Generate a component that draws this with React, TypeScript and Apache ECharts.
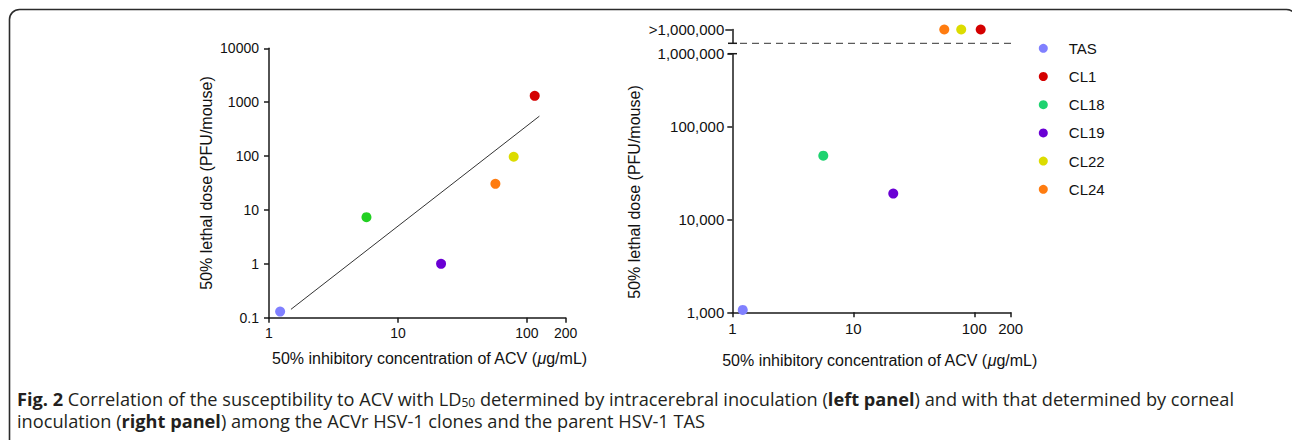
import React, { useEffect, useRef } from "react";
import * as echarts from "echarts";

// ---- data ----
const strainNames = ["TAS", "CL1", "CL18", "CL19", "CL22", "CL24"];
const strainColors = ["#8080ff", "#d40000", "#1ed370", "#6a00d4", "#dcdc00", "#ff7c10"];
const leftStrainColors = ["#8080ff", "#d40000", "#22d022", "#6a00d4", "#dcdc00", "#ff7c10"];

// left panel: IC50 of ACV (µg/mL) vs LD50 intracerebral (PFU/mouse)
const leftIC50 = [1.22, 115, 5.7, 21.6, 79, 57];
const leftLD50 = [0.13, 1310, 7.35, 1.0, 97, 30.5];
// regression line end points
const fitIC50 = [1.48, 125];
const fitLD50 = [0.143, 550];

// right panel: IC50 vs LD50 corneal (PFU/mouse); ">1,000,000" = above range
const aboveLabel = ">1,000,000";
const rightIC50 = [1.22, 113, 5.65, 21.4, 78, 56.5];
const rightLD50: (number | string)[] = [1060, aboveLabel, 48300, 18900, aboveLabel, aboveLabel];

// axis extents
const xMin = 1;
const xMax = 200;
const leftYMin = 0.1;
const leftYMax = 10000;
const rightYMin = 1000;
const rightYTop = 603000; // top of the drawn axis, labelled 1,000,000 in the figure
const rightYTopLabel = "1,000,000";
const topCategories = ["", aboveLabel];

const FONT = "Liberation Sans, Arial, Helvetica, sans-serif";
const CAP_FONT = "Open Sans, sans-serif";
const AXIS_COLOR = "#1a1a1a";
const TEXT_COLOR = "#111";

const caption1 =
  "{b|Fig. 2} Correlation of the susceptibility to ACV with LD{sub|50} determined by intracerebral inoculation ({b|left panel}) and with that determined by corneal";
const caption2 =
  "inoculation ({b|right panel}) among the ACVr HSV-1 clones and the parent HSV-1 TAS";

function fmtNum(v: number) {
  return String(+v.toPrecision(6));
}

export default function App() {
  const ref = useRef<HTMLDivElement>(null);
  useEffect(() => {
    if (!ref.current) return;
    const chart = echarts.init(ref.current, null, { renderer: "svg" });

    const axisLine = { show: true, onZero: false, lineStyle: { color: AXIS_COLOR, width: 1.5 } };
    const axisTick = { show: true, length: 5, lineStyle: { color: AXIS_COLOR, width: 1.5 } };
    const xName = "50% inhibitory concentration of ACV ({i|\u03bc}g/mL)";
    const nameRich = { i: { fontStyle: "italic", fontSize: 16, fontFamily: FONT, color: TEXT_COLOR } };

    const series: any[] = [];
    // right panel first (legend colours come from it)
    strainNames.forEach((n, i) => {
      const v = rightLD50[i];
      const inRange = typeof v === "number";
      series.push({
        type: "scatter",
        name: n,
        xAxisIndex: inRange ? 1 : 2,
        yAxisIndex: inRange ? 1 : 2,
        symbolSize: 10,
        itemStyle: { color: strainColors[i], opacity: 1 },
        data: [[rightIC50[i], v]],
      });
    });
    strainNames.forEach((n, i) => {
      series.push({
        type: "scatter",
        name: n,
        xAxisIndex: 0,
        yAxisIndex: 0,
        symbolSize: 10,
        itemStyle: { color: leftStrainColors[i], opacity: 1 },
        data: [[leftIC50[i], leftLD50[i]]],
      });
    });
    series.push({
      type: "line",
      name: "fit",
      xAxisIndex: 0,
      yAxisIndex: 0,
      symbol: "none",
      lineStyle: { color: "#333", width: 1 },
      data: fitIC50.map((x, i) => [x, fitLD50[i]]),
    });

    const capStyle = (text: string, y: number) => ({
      type: "text",
      x: 17,
      y,
      style: {
        text,
        fill: "#231f20",
        fontSize: 18.2,
        fontFamily: CAP_FONT,
        verticalAlign: "middle",
        lineHeight: 19,
        rich: {
          b: { fontWeight: "bold", fontSize: 18.2, fontFamily: CAP_FONT, fill: "#231f20", lineHeight: 19 },
          sub: { fontSize: 12, fontFamily: CAP_FONT, fill: "#231f20", verticalAlign: "bottom", lineHeight: 7 },
        },
      },
    });

    const option: any = {
      animation: false,
      backgroundColor: "#fff",
      textStyle: { fontFamily: FONT },
      grid: [
        { left: 269, top: 48.3, width: 296.7, height: 269.4 },
        { left: 732.3, top: 53.7, width: 278.4, height: 258.6 },
        { left: 732.3, top: 29.5, width: 278.4, height: 13.8 },
      ],
      xAxis: [
        {
          type: "log",
          gridIndex: 0,
          min: xMin,
          max: xMax,
          axisLine,
          axisTick,
          splitLine: { show: false },
          axisLabel: { fontSize: 14, color: TEXT_COLOR, margin: 8, fontFamily: FONT, formatter: fmtNum },
          name: xName,
          nameLocation: "middle",
          nameGap: 33,
          nameTextStyle: { fontSize: 16, color: TEXT_COLOR, fontFamily: FONT, padding: [0, 0, 0, 24], rich: nameRich },
        },
        {
          type: "log",
          gridIndex: 1,
          min: xMin,
          max: xMax,
          axisLine,
          axisTick,
          splitLine: { show: false },
          axisLabel: { fontSize: 15, color: TEXT_COLOR, margin: 9, fontFamily: FONT, formatter: fmtNum },
          name: xName,
          nameLocation: "middle",
          nameGap: 40,
          nameTextStyle: { fontSize: 16, color: TEXT_COLOR, fontFamily: FONT, padding: [0, 0, 0, 16], rich: nameRich },
        },
        {
          type: "log",
          gridIndex: 2,
          min: xMin,
          max: xMax,
          show: false,
        },
      ],
      yAxis: [
        {
          type: "log",
          gridIndex: 0,
          min: leftYMin,
          max: leftYMax,
          axisLine,
          axisTick,
          splitLine: { show: false },
          axisLabel: { fontSize: 14, color: TEXT_COLOR, margin: 10, fontFamily: FONT, formatter: fmtNum },
          name: "50% lethal dose (PFU/mouse)",
          nameLocation: "middle",
          nameGap: 55,
          nameTextStyle: { fontSize: 16, color: TEXT_COLOR, fontFamily: FONT },
        },
        {
          type: "log",
          gridIndex: 1,
          min: rightYMin,
          max: rightYTop,
          axisLine,
          axisTick,
          splitLine: { show: false },
          axisLabel: {
            fontSize: 15,
            color: TEXT_COLOR,
            margin: 8,
            fontFamily: FONT,
            showMaxLabel: true,
            formatter: (v: number) =>
              v >= rightYTop * 0.999 ? rightYTopLabel : Math.round(v).toLocaleString("en-US"),
          },
          name: "50% lethal dose (PFU/mouse)",
          nameLocation: "middle",
          nameGap: 90,
          nameTextStyle: { fontSize: 16, color: TEXT_COLOR, fontFamily: FONT, padding: [0, 18, 0, 0] },
        },
        {
          type: "category",
          gridIndex: 2,
          data: topCategories,
          boundaryGap: false,
          axisLine,
          axisTick: { show: true, length: 7, interval: (i: number) => i === 1, lineStyle: { color: AXIS_COLOR, width: 1.5 } },
          axisLabel: { fontSize: 15, color: TEXT_COLOR, margin: 8, fontFamily: FONT, interval: 0 },
          splitLine: { show: false },
        },
      ],
      legend: {
        orient: "vertical",
        left: 1038.8,
        top: 40.3,
        padding: 0,
        itemWidth: 9,
        itemHeight: 9,
        itemGap: 12.2,
        icon: "circle",
        selectedMode: false,
        textStyle: { fontSize: 15, color: TEXT_COLOR, fontFamily: FONT, lineHeight: 16, padding: [0, 0, 0, 16] },
        data: strainNames.map((n, i) => ({ name: n, itemStyle: { color: strainColors[i] } })),
      },
      graphic: [
        {
          type: "rect",
          shape: { x: 9.5, y: 9.5, width: 1287, height: 480, r: 10 },
          style: { fill: "none", stroke: "#2b2b2b", lineWidth: 1.6 },
          silent: true,
        },
        {
          type: "line",
          shape: { x1: 728, y1: 43.3, x2: 737, y2: 43.3 },
          style: { stroke: AXIS_COLOR, lineWidth: 1.5 },
        },
        {
          type: "line",
          shape: { x1: 728, y1: 53.7, x2: 737, y2: 53.7 },
          style: { stroke: AXIS_COLOR, lineWidth: 1.5 },
        },
        {
          type: "line",
          shape: { x1: 740, y1: 43.3, x2: 1013, y2: 43.3 },
          style: { stroke: "#333", lineWidth: 1, lineDash: [7, 5] },
        },
        capStyle(caption1, 399),
        capStyle(caption2, 421),
      ],
      series,
    };
    chart.setOption(option);
    return () => chart.dispose();
  }, []);
  return (
    <div
      ref={ref}
      style={{ position: "fixed", left: 0, top: 0, width: 1292, height: 440, background: "#fff" }}
    />
  );
}
